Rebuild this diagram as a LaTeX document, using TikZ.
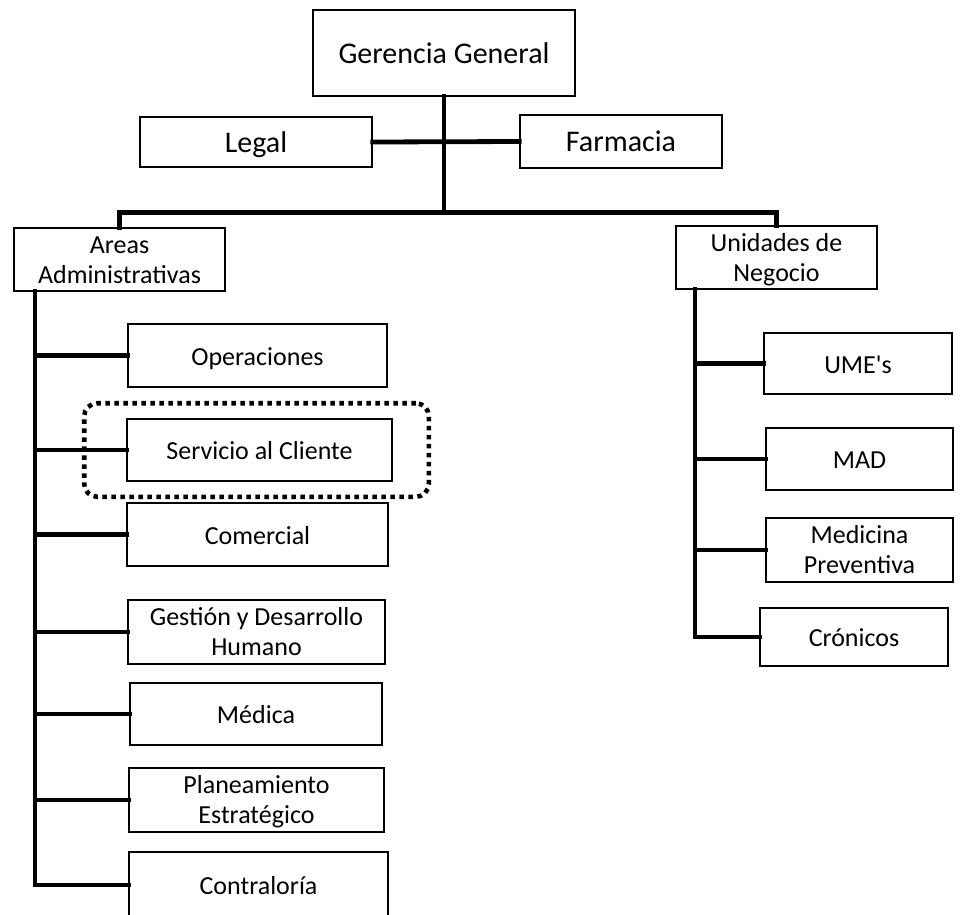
\documentclass[tikz,border=0pt]{standalone}
\usepackage{fontspec}
\setmainfont{Carlito}[Ligatures=TeXOff]
\usetikzlibrary{fit}
\begin{document}
\begin{tikzpicture}[x=1pt,y=-1pt,
  unit/.style={draw=black, line width=1.6pt, fill=white, align=center,
    inner sep=0pt, font=\fontsize{26}{30}\selectfont,
    text height=19pt, text depth=0pt},
  twoline/.style={text height=47pt, text depth=0pt},
  bigunit/.style={unit, font=\fontsize{30}{34}\selectfont, text height=20pt},
  link/.style={line width=4.8pt, line cap=rect},
  focusbox/.style={draw=black, line width=4.6pt, dash pattern=on 4.5pt off 4.5pt,
    rounded corners=13pt, inner sep=0pt}]
\useasboundingbox (0,0) rectangle (961,914);

% top level
\node[bigunit, minimum width=262pt, minimum height=86pt] (gg) at (444,53) {Gerencia General};
\node[bigunit, minimum width=232pt, minimum height=50pt] (legal) at (256,142) {Legal};
\node[bigunit, minimum width=202pt, minimum height=53pt] (farm) at (621,141.5) {Farmacia};

% second level
\node[unit, twoline, minimum width=211pt, minimum height=63pt] (areas) at (119.5,259.5) {Areas\\Administrativas};
\node[unit, twoline, minimum width=201pt, minimum height=63pt] (unid) at (776.5,257.5) {Unidades de\\Negocio};

% administrative areas
\node[unit, minimum width=259pt, minimum height=63pt] (oper) at (257.5,355.5) {Operaciones};
\node[unit, minimum width=265pt, minimum height=62pt] (serv) at (259.5,450) {Servicio al Cliente};
\node[unit, minimum width=261pt, minimum height=63pt] (com) at (257.5,534.5) {Comercial};
\node[unit, twoline, minimum width=257pt, minimum height=64pt] (gest) at (256.5,632) {Gestión y Desarrollo\\Humano};
\node[unit, minimum width=252pt, minimum height=62pt] (med) at (256,714) {Médica};
\node[unit, twoline, minimum width=255pt, minimum height=64pt] (plan) at (256.5,800) {Planeamiento\\Estratégico};
\node[unit, minimum width=259pt, minimum height=66pt] (contr) at (258.5,885) {Contraloría};

% business units
\node[unit, minimum width=188pt, minimum height=61pt] (ume) at (858,363.5) {UME's};
\node[unit, minimum width=187pt, minimum height=62pt] (mad) at (859.5,459) {MAD};
\node[unit, twoline, minimum width=187pt, minimum height=64pt] (medp) at (859.5,550) {Medicina\\Preventiva};
\node[unit, minimum width=188pt, minimum height=58pt] (cron) at (854,637) {Crónicos};

% highlighted unit
\node[focusbox, fit=(serv), inner xsep=39pt, inner ysep=15pt, xshift=-3pt] (focus) {};

% spine coordinates
\coordinate (hub) at (444,213);
\coordinate (lspine) at (35,291);
\coordinate (rspine) at (695,289);

% connectors
\draw[link] (gg.south) -- (hub);
\draw[link] (legal.east) -- (farm.west);
\draw[link] (areas.north) -- ++(0,-15) -| (unid.north);

\draw[link] (lspine) |- (contr.west);
\foreach \n in {oper,serv,com,gest,med,plan}
  \draw[link] (lspine |- \n.west) -- (\n.west);

\draw[link] (rspine) |- (cron.west);
\foreach \n in {ume,mad,medp}
  \draw[link] (rspine |- \n.west) -- (\n.west);
\end{tikzpicture}
\end{document}
